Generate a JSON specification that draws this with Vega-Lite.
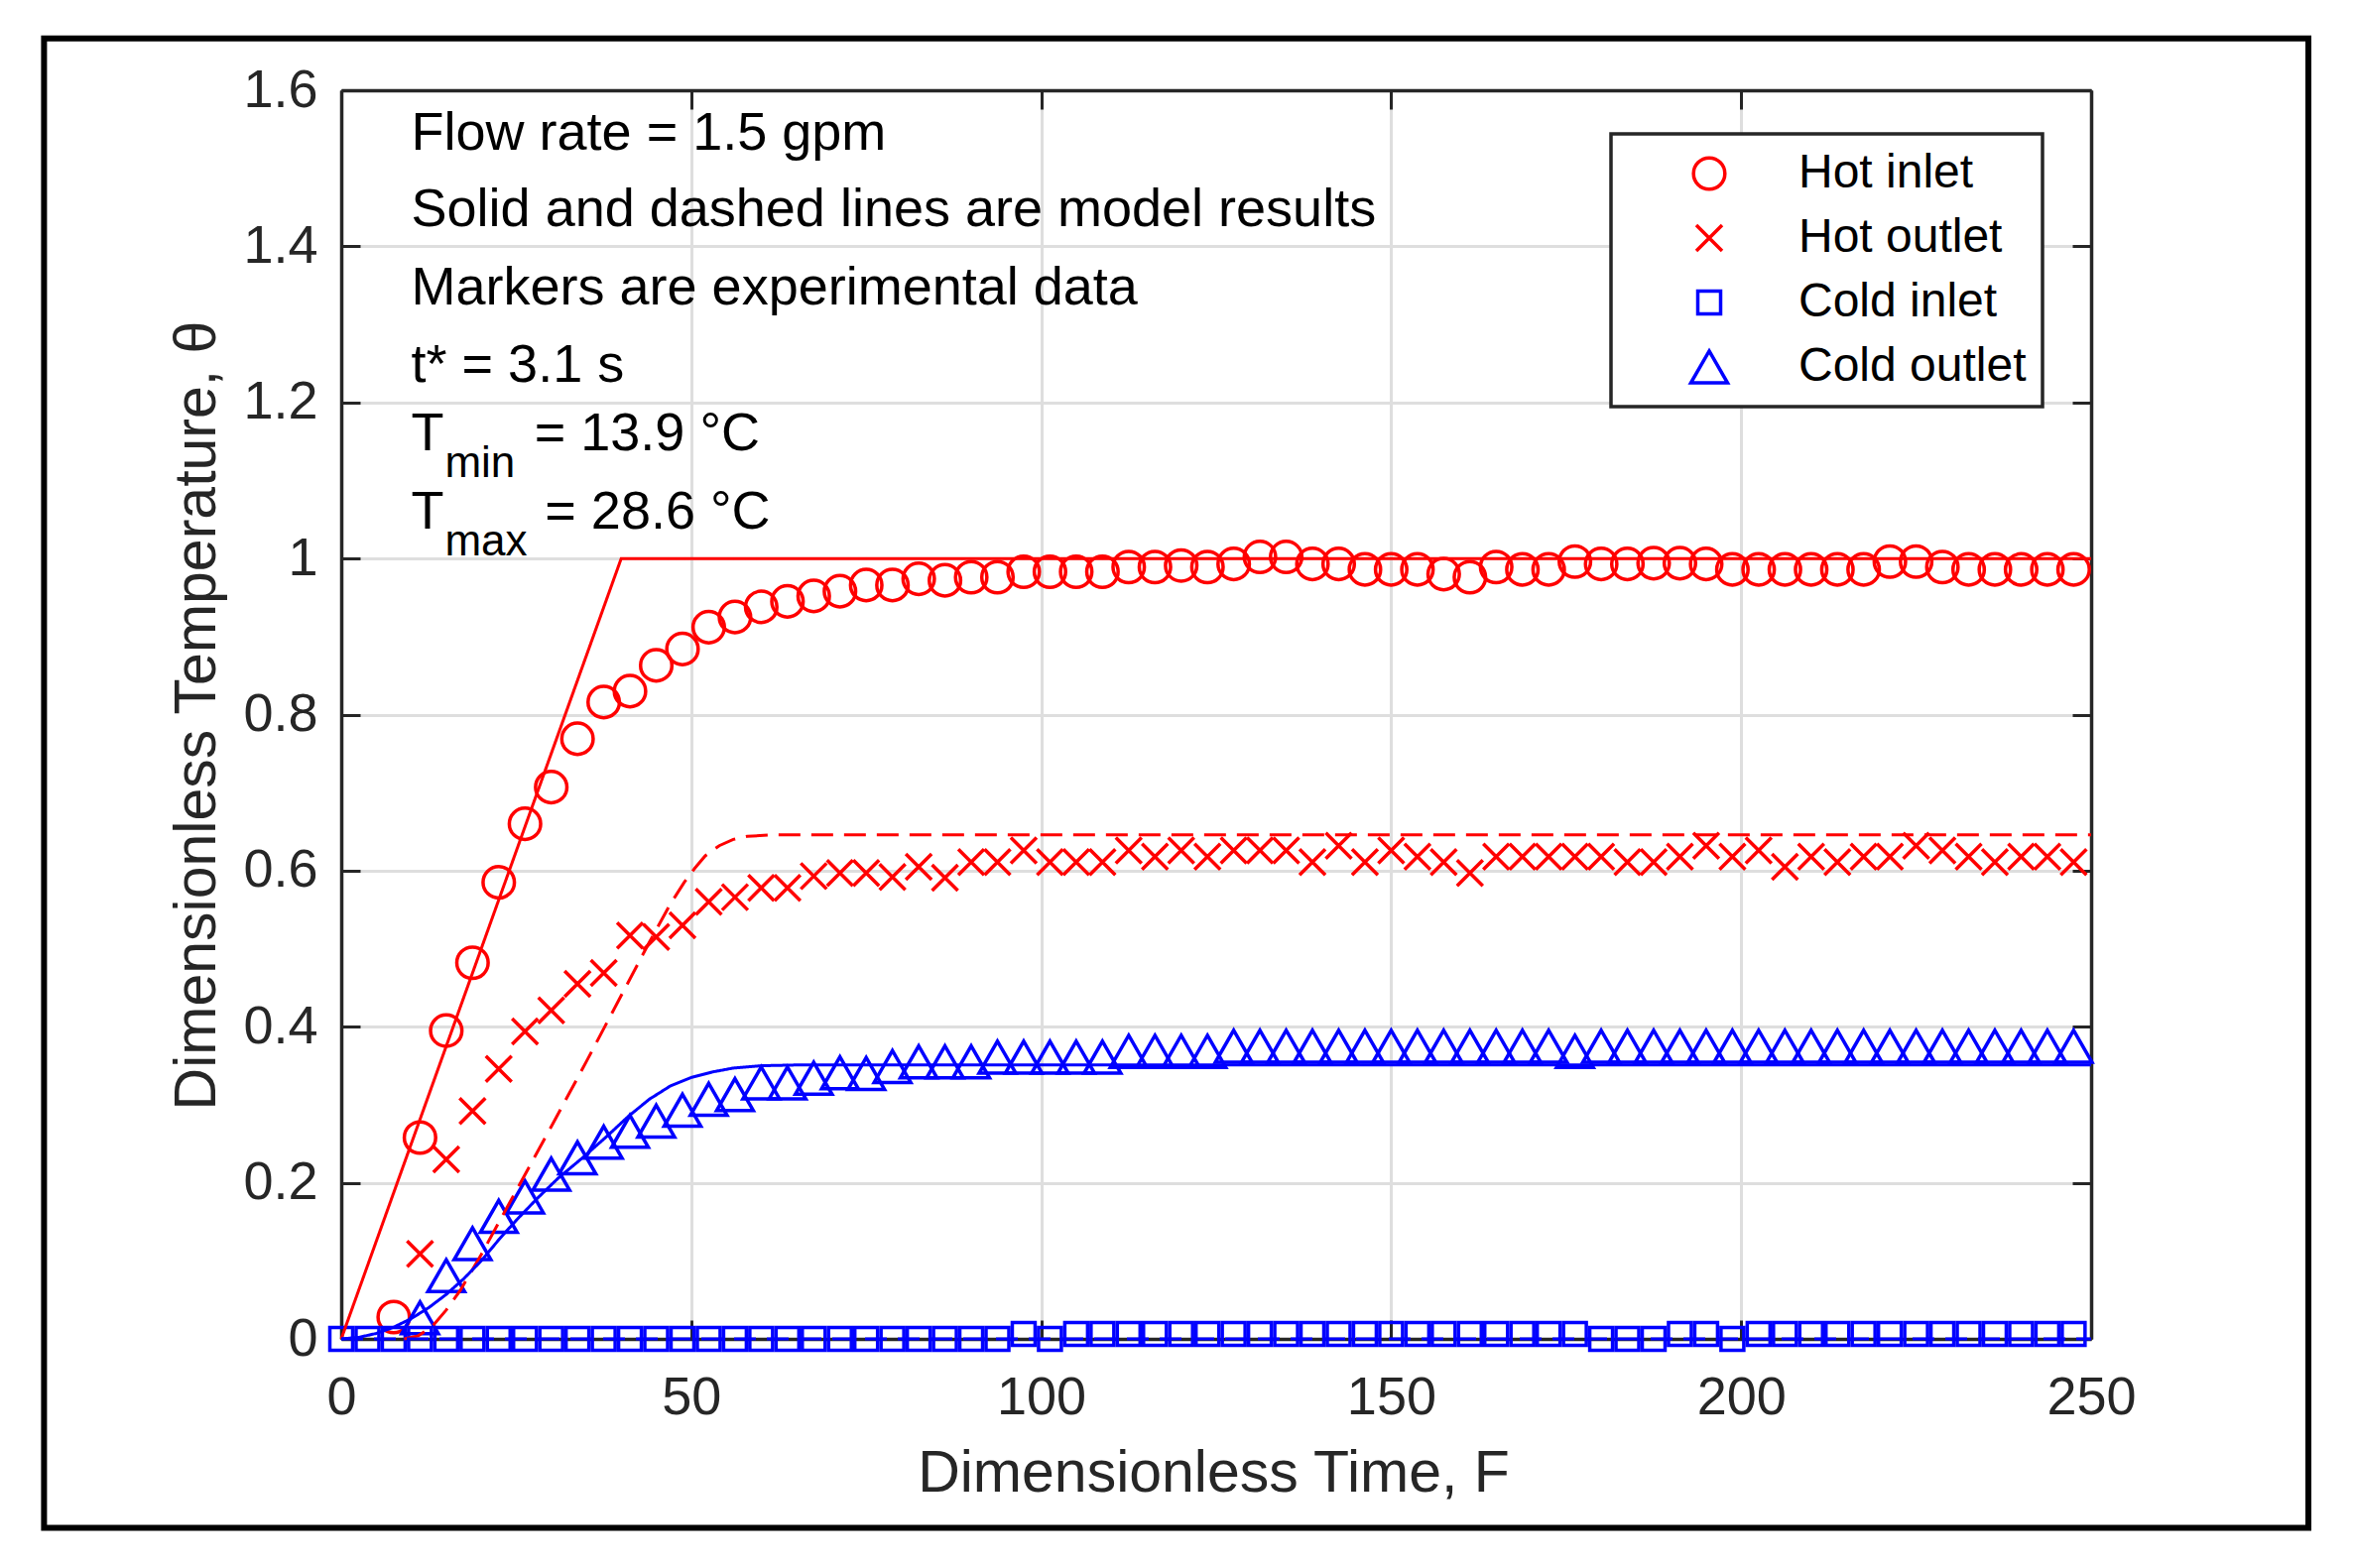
{
  "$schema": "https://vega.github.io/schema/vega-lite/v6.json",
  "width": 1764,
  "height": 1259,
  "autosize": "none",
  "padding": {"left": 344, "top": 91, "right": 265, "bottom": 231},
  "background": "white",
  "config": {
    "view": {"stroke": null},
    "font": "Liberation Sans",
    "legend": {"strokeWidth": 3.5}
  },
  "datasets": {
    "markers": [
      {"series": "Hot inlet", "F": 7.5, "theta": 0.028},
      {"series": "Hot inlet", "F": 11.25, "theta": 0.258},
      {"series": "Hot inlet", "F": 15, "theta": 0.395},
      {"series": "Hot inlet", "F": 18.75, "theta": 0.482},
      {"series": "Hot inlet", "F": 22.5, "theta": 0.585},
      {"series": "Hot inlet", "F": 26.25, "theta": 0.66},
      {"series": "Hot inlet", "F": 30, "theta": 0.707},
      {"series": "Hot inlet", "F": 33.75, "theta": 0.769},
      {"series": "Hot inlet", "F": 37.5, "theta": 0.816},
      {"series": "Hot inlet", "F": 41.25, "theta": 0.83},
      {"series": "Hot inlet", "F": 45, "theta": 0.863},
      {"series": "Hot inlet", "F": 48.75, "theta": 0.884},
      {"series": "Hot inlet", "F": 52.5, "theta": 0.912},
      {"series": "Hot inlet", "F": 56.25, "theta": 0.925},
      {"series": "Hot inlet", "F": 60, "theta": 0.938},
      {"series": "Hot inlet", "F": 63.75, "theta": 0.945},
      {"series": "Hot inlet", "F": 67.5, "theta": 0.952},
      {"series": "Hot inlet", "F": 71.25, "theta": 0.958},
      {"series": "Hot inlet", "F": 75, "theta": 0.966},
      {"series": "Hot inlet", "F": 78.75, "theta": 0.966},
      {"series": "Hot inlet", "F": 82.5, "theta": 0.974},
      {"series": "Hot inlet", "F": 86.25, "theta": 0.972},
      {"series": "Hot inlet", "F": 90, "theta": 0.976},
      {"series": "Hot inlet", "F": 93.75, "theta": 0.976},
      {"series": "Hot inlet", "F": 97.5, "theta": 0.983},
      {"series": "Hot inlet", "F": 101.25, "theta": 0.983},
      {"series": "Hot inlet", "F": 105, "theta": 0.983},
      {"series": "Hot inlet", "F": 108.75, "theta": 0.983},
      {"series": "Hot inlet", "F": 112.5, "theta": 0.989},
      {"series": "Hot inlet", "F": 116.25, "theta": 0.989},
      {"series": "Hot inlet", "F": 120, "theta": 0.991},
      {"series": "Hot inlet", "F": 123.75, "theta": 0.989},
      {"series": "Hot inlet", "F": 127.5, "theta": 0.993},
      {"series": "Hot inlet", "F": 131.25, "theta": 1.002},
      {"series": "Hot inlet", "F": 135, "theta": 1.002},
      {"series": "Hot inlet", "F": 138.75, "theta": 0.993},
      {"series": "Hot inlet", "F": 142.5, "theta": 0.993},
      {"series": "Hot inlet", "F": 146.25, "theta": 0.986},
      {"series": "Hot inlet", "F": 150, "theta": 0.986},
      {"series": "Hot inlet", "F": 153.75, "theta": 0.986},
      {"series": "Hot inlet", "F": 157.5, "theta": 0.98},
      {"series": "Hot inlet", "F": 161.25, "theta": 0.976},
      {"series": "Hot inlet", "F": 165, "theta": 0.989},
      {"series": "Hot inlet", "F": 168.75, "theta": 0.986},
      {"series": "Hot inlet", "F": 172.5, "theta": 0.986},
      {"series": "Hot inlet", "F": 176.25, "theta": 0.996},
      {"series": "Hot inlet", "F": 180, "theta": 0.993},
      {"series": "Hot inlet", "F": 183.75, "theta": 0.993},
      {"series": "Hot inlet", "F": 187.5, "theta": 0.994},
      {"series": "Hot inlet", "F": 191.25, "theta": 0.994},
      {"series": "Hot inlet", "F": 195, "theta": 0.993},
      {"series": "Hot inlet", "F": 198.75, "theta": 0.986},
      {"series": "Hot inlet", "F": 202.5, "theta": 0.986},
      {"series": "Hot inlet", "F": 206.25, "theta": 0.986},
      {"series": "Hot inlet", "F": 210, "theta": 0.986},
      {"series": "Hot inlet", "F": 213.75, "theta": 0.986},
      {"series": "Hot inlet", "F": 217.5, "theta": 0.986},
      {"series": "Hot inlet", "F": 221.25, "theta": 0.996},
      {"series": "Hot inlet", "F": 225, "theta": 0.996},
      {"series": "Hot inlet", "F": 228.75, "theta": 0.989},
      {"series": "Hot inlet", "F": 232.5, "theta": 0.986},
      {"series": "Hot inlet", "F": 236.25, "theta": 0.986},
      {"series": "Hot inlet", "F": 240, "theta": 0.986},
      {"series": "Hot inlet", "F": 243.75, "theta": 0.986},
      {"series": "Hot inlet", "F": 247.5, "theta": 0.986},
      {"series": "Hot outlet", "F": 11.25, "theta": 0.109},
      {"series": "Hot outlet", "F": 15, "theta": 0.23},
      {"series": "Hot outlet", "F": 18.75, "theta": 0.292},
      {"series": "Hot outlet", "F": 22.5, "theta": 0.346},
      {"series": "Hot outlet", "F": 26.25, "theta": 0.394},
      {"series": "Hot outlet", "F": 30, "theta": 0.421},
      {"series": "Hot outlet", "F": 33.75, "theta": 0.455},
      {"series": "Hot outlet", "F": 37.5, "theta": 0.469},
      {"series": "Hot outlet", "F": 41.25, "theta": 0.517},
      {"series": "Hot outlet", "F": 45, "theta": 0.515},
      {"series": "Hot outlet", "F": 48.75, "theta": 0.53},
      {"series": "Hot outlet", "F": 52.5, "theta": 0.56},
      {"series": "Hot outlet", "F": 56.25, "theta": 0.566},
      {"series": "Hot outlet", "F": 60, "theta": 0.578},
      {"series": "Hot outlet", "F": 63.75, "theta": 0.578},
      {"series": "Hot outlet", "F": 67.5, "theta": 0.593},
      {"series": "Hot outlet", "F": 71.25, "theta": 0.597},
      {"series": "Hot outlet", "F": 75, "theta": 0.597},
      {"series": "Hot outlet", "F": 78.75, "theta": 0.592},
      {"series": "Hot outlet", "F": 82.5, "theta": 0.605},
      {"series": "Hot outlet", "F": 86.25, "theta": 0.591},
      {"series": "Hot outlet", "F": 90, "theta": 0.611},
      {"series": "Hot outlet", "F": 93.75, "theta": 0.611},
      {"series": "Hot outlet", "F": 97.5, "theta": 0.626},
      {"series": "Hot outlet", "F": 101.25, "theta": 0.611},
      {"series": "Hot outlet", "F": 105, "theta": 0.611},
      {"series": "Hot outlet", "F": 108.75, "theta": 0.611},
      {"series": "Hot outlet", "F": 112.5, "theta": 0.626},
      {"series": "Hot outlet", "F": 116.25, "theta": 0.618},
      {"series": "Hot outlet", "F": 120, "theta": 0.626},
      {"series": "Hot outlet", "F": 123.75, "theta": 0.618},
      {"series": "Hot outlet", "F": 127.5, "theta": 0.626},
      {"series": "Hot outlet", "F": 131.25, "theta": 0.626},
      {"series": "Hot outlet", "F": 135, "theta": 0.626},
      {"series": "Hot outlet", "F": 138.75, "theta": 0.611},
      {"series": "Hot outlet", "F": 142.5, "theta": 0.632},
      {"series": "Hot outlet", "F": 146.25, "theta": 0.611},
      {"series": "Hot outlet", "F": 150, "theta": 0.626},
      {"series": "Hot outlet", "F": 153.75, "theta": 0.618},
      {"series": "Hot outlet", "F": 157.5, "theta": 0.611},
      {"series": "Hot outlet", "F": 161.25, "theta": 0.597},
      {"series": "Hot outlet", "F": 165, "theta": 0.618},
      {"series": "Hot outlet", "F": 168.75, "theta": 0.618},
      {"series": "Hot outlet", "F": 172.5, "theta": 0.618},
      {"series": "Hot outlet", "F": 176.25, "theta": 0.618},
      {"series": "Hot outlet", "F": 180, "theta": 0.618},
      {"series": "Hot outlet", "F": 183.75, "theta": 0.611},
      {"series": "Hot outlet", "F": 187.5, "theta": 0.611},
      {"series": "Hot outlet", "F": 191.25, "theta": 0.618},
      {"series": "Hot outlet", "F": 195, "theta": 0.632},
      {"series": "Hot outlet", "F": 198.75, "theta": 0.618},
      {"series": "Hot outlet", "F": 202.5, "theta": 0.626},
      {"series": "Hot outlet", "F": 206.25, "theta": 0.605},
      {"series": "Hot outlet", "F": 210, "theta": 0.618},
      {"series": "Hot outlet", "F": 213.75, "theta": 0.611},
      {"series": "Hot outlet", "F": 217.5, "theta": 0.618},
      {"series": "Hot outlet", "F": 221.25, "theta": 0.618},
      {"series": "Hot outlet", "F": 225, "theta": 0.632},
      {"series": "Hot outlet", "F": 228.75, "theta": 0.626},
      {"series": "Hot outlet", "F": 232.5, "theta": 0.618},
      {"series": "Hot outlet", "F": 236.25, "theta": 0.611},
      {"series": "Hot outlet", "F": 240, "theta": 0.618},
      {"series": "Hot outlet", "F": 243.75, "theta": 0.618},
      {"series": "Hot outlet", "F": 247.5, "theta": 0.611},
      {"series": "Cold inlet", "F": 0, "theta": 0},
      {"series": "Cold inlet", "F": 3.75, "theta": 0},
      {"series": "Cold inlet", "F": 7.5, "theta": 0},
      {"series": "Cold inlet", "F": 11.25, "theta": 0},
      {"series": "Cold inlet", "F": 15, "theta": 0},
      {"series": "Cold inlet", "F": 18.75, "theta": 0},
      {"series": "Cold inlet", "F": 22.5, "theta": 0},
      {"series": "Cold inlet", "F": 26.25, "theta": 0},
      {"series": "Cold inlet", "F": 30, "theta": 0},
      {"series": "Cold inlet", "F": 33.75, "theta": 0},
      {"series": "Cold inlet", "F": 37.5, "theta": 0},
      {"series": "Cold inlet", "F": 41.25, "theta": 0},
      {"series": "Cold inlet", "F": 45, "theta": 0},
      {"series": "Cold inlet", "F": 48.75, "theta": 0},
      {"series": "Cold inlet", "F": 52.5, "theta": 0},
      {"series": "Cold inlet", "F": 56.25, "theta": 0},
      {"series": "Cold inlet", "F": 60, "theta": 0},
      {"series": "Cold inlet", "F": 63.75, "theta": 0},
      {"series": "Cold inlet", "F": 67.5, "theta": 0},
      {"series": "Cold inlet", "F": 71.25, "theta": 0},
      {"series": "Cold inlet", "F": 75, "theta": 0},
      {"series": "Cold inlet", "F": 78.75, "theta": 0},
      {"series": "Cold inlet", "F": 82.5, "theta": 0},
      {"series": "Cold inlet", "F": 86.25, "theta": 0},
      {"series": "Cold inlet", "F": 90, "theta": 0},
      {"series": "Cold inlet", "F": 93.75, "theta": 0},
      {"series": "Cold inlet", "F": 97.5, "theta": 0.0064},
      {"series": "Cold inlet", "F": 101.25, "theta": 0},
      {"series": "Cold inlet", "F": 105, "theta": 0.0064},
      {"series": "Cold inlet", "F": 108.75, "theta": 0.0064},
      {"series": "Cold inlet", "F": 112.5, "theta": 0.0064},
      {"series": "Cold inlet", "F": 116.25, "theta": 0.0064},
      {"series": "Cold inlet", "F": 120, "theta": 0.0064},
      {"series": "Cold inlet", "F": 123.75, "theta": 0.0064},
      {"series": "Cold inlet", "F": 127.5, "theta": 0.0064},
      {"series": "Cold inlet", "F": 131.25, "theta": 0.0064},
      {"series": "Cold inlet", "F": 135, "theta": 0.0064},
      {"series": "Cold inlet", "F": 138.75, "theta": 0.0064},
      {"series": "Cold inlet", "F": 142.5, "theta": 0.0064},
      {"series": "Cold inlet", "F": 146.25, "theta": 0.0064},
      {"series": "Cold inlet", "F": 150, "theta": 0.0064},
      {"series": "Cold inlet", "F": 153.75, "theta": 0.0064},
      {"series": "Cold inlet", "F": 157.5, "theta": 0.0064},
      {"series": "Cold inlet", "F": 161.25, "theta": 0.0064},
      {"series": "Cold inlet", "F": 165, "theta": 0.0064},
      {"series": "Cold inlet", "F": 168.75, "theta": 0.0064},
      {"series": "Cold inlet", "F": 172.5, "theta": 0.0064},
      {"series": "Cold inlet", "F": 176.25, "theta": 0.0064},
      {"series": "Cold inlet", "F": 180, "theta": 0},
      {"series": "Cold inlet", "F": 183.75, "theta": 0},
      {"series": "Cold inlet", "F": 187.5, "theta": 0},
      {"series": "Cold inlet", "F": 191.25, "theta": 0.0064},
      {"series": "Cold inlet", "F": 195, "theta": 0.0064},
      {"series": "Cold inlet", "F": 198.75, "theta": 0},
      {"series": "Cold inlet", "F": 202.5, "theta": 0.0064},
      {"series": "Cold inlet", "F": 206.25, "theta": 0.0064},
      {"series": "Cold inlet", "F": 210, "theta": 0.0064},
      {"series": "Cold inlet", "F": 213.75, "theta": 0.0064},
      {"series": "Cold inlet", "F": 217.5, "theta": 0.0064},
      {"series": "Cold inlet", "F": 221.25, "theta": 0.0064},
      {"series": "Cold inlet", "F": 225, "theta": 0.0064},
      {"series": "Cold inlet", "F": 228.75, "theta": 0.0064},
      {"series": "Cold inlet", "F": 232.5, "theta": 0.0064},
      {"series": "Cold inlet", "F": 236.25, "theta": 0.0064},
      {"series": "Cold inlet", "F": 240, "theta": 0.0064},
      {"series": "Cold inlet", "F": 243.75, "theta": 0.0064},
      {"series": "Cold inlet", "F": 247.5, "theta": 0.0064},
      {"series": "Cold outlet", "F": 11.25, "theta": 0.027},
      {"series": "Cold outlet", "F": 15, "theta": 0.081},
      {"series": "Cold outlet", "F": 18.75, "theta": 0.122},
      {"series": "Cold outlet", "F": 22.5, "theta": 0.157},
      {"series": "Cold outlet", "F": 26.25, "theta": 0.182},
      {"series": "Cold outlet", "F": 30, "theta": 0.211},
      {"series": "Cold outlet", "F": 33.75, "theta": 0.232},
      {"series": "Cold outlet", "F": 37.5, "theta": 0.252},
      {"series": "Cold outlet", "F": 41.25, "theta": 0.266},
      {"series": "Cold outlet", "F": 45, "theta": 0.279},
      {"series": "Cold outlet", "F": 48.75, "theta": 0.293},
      {"series": "Cold outlet", "F": 52.5, "theta": 0.307},
      {"series": "Cold outlet", "F": 56.25, "theta": 0.313},
      {"series": "Cold outlet", "F": 60, "theta": 0.328},
      {"series": "Cold outlet", "F": 63.75, "theta": 0.328},
      {"series": "Cold outlet", "F": 67.5, "theta": 0.334},
      {"series": "Cold outlet", "F": 71.25, "theta": 0.341},
      {"series": "Cold outlet", "F": 75, "theta": 0.34},
      {"series": "Cold outlet", "F": 78.75, "theta": 0.349},
      {"series": "Cold outlet", "F": 82.5, "theta": 0.355},
      {"series": "Cold outlet", "F": 86.25, "theta": 0.355},
      {"series": "Cold outlet", "F": 90, "theta": 0.355},
      {"series": "Cold outlet", "F": 93.75, "theta": 0.361},
      {"series": "Cold outlet", "F": 97.5, "theta": 0.361},
      {"series": "Cold outlet", "F": 101.25, "theta": 0.361},
      {"series": "Cold outlet", "F": 105, "theta": 0.361},
      {"series": "Cold outlet", "F": 108.75, "theta": 0.361},
      {"series": "Cold outlet", "F": 112.5, "theta": 0.3685},
      {"series": "Cold outlet", "F": 116.25, "theta": 0.3685},
      {"series": "Cold outlet", "F": 120, "theta": 0.3685},
      {"series": "Cold outlet", "F": 123.75, "theta": 0.3685},
      {"series": "Cold outlet", "F": 127.5, "theta": 0.375},
      {"series": "Cold outlet", "F": 131.25, "theta": 0.375},
      {"series": "Cold outlet", "F": 135, "theta": 0.375},
      {"series": "Cold outlet", "F": 138.75, "theta": 0.375},
      {"series": "Cold outlet", "F": 142.5, "theta": 0.375},
      {"series": "Cold outlet", "F": 146.25, "theta": 0.375},
      {"series": "Cold outlet", "F": 150, "theta": 0.375},
      {"series": "Cold outlet", "F": 153.75, "theta": 0.375},
      {"series": "Cold outlet", "F": 157.5, "theta": 0.375},
      {"series": "Cold outlet", "F": 161.25, "theta": 0.375},
      {"series": "Cold outlet", "F": 165, "theta": 0.375},
      {"series": "Cold outlet", "F": 168.75, "theta": 0.375},
      {"series": "Cold outlet", "F": 172.5, "theta": 0.375},
      {"series": "Cold outlet", "F": 176.25, "theta": 0.3685},
      {"series": "Cold outlet", "F": 180, "theta": 0.375},
      {"series": "Cold outlet", "F": 183.75, "theta": 0.375},
      {"series": "Cold outlet", "F": 187.5, "theta": 0.375},
      {"series": "Cold outlet", "F": 191.25, "theta": 0.375},
      {"series": "Cold outlet", "F": 195, "theta": 0.375},
      {"series": "Cold outlet", "F": 198.75, "theta": 0.375},
      {"series": "Cold outlet", "F": 202.5, "theta": 0.375},
      {"series": "Cold outlet", "F": 206.25, "theta": 0.375},
      {"series": "Cold outlet", "F": 210, "theta": 0.375},
      {"series": "Cold outlet", "F": 213.75, "theta": 0.375},
      {"series": "Cold outlet", "F": 217.5, "theta": 0.375},
      {"series": "Cold outlet", "F": 221.25, "theta": 0.375},
      {"series": "Cold outlet", "F": 225, "theta": 0.375},
      {"series": "Cold outlet", "F": 228.75, "theta": 0.375},
      {"series": "Cold outlet", "F": 232.5, "theta": 0.375},
      {"series": "Cold outlet", "F": 236.25, "theta": 0.375},
      {"series": "Cold outlet", "F": 240, "theta": 0.375},
      {"series": "Cold outlet", "F": 243.75, "theta": 0.375},
      {"series": "Cold outlet", "F": 247.5, "theta": 0.375}
    ],
    "model": [
      {"curve": "Hot inlet model", "F": 0, "theta": 0},
      {"curve": "Hot inlet model", "F": 40, "theta": 1},
      {"curve": "Hot inlet model", "F": 250, "theta": 1},
      {"curve": "Hot outlet model", "F": 9, "theta": 0},
      {"curve": "Hot outlet model", "F": 11, "theta": 0.004},
      {"curve": "Hot outlet model", "F": 13, "theta": 0.016},
      {"curve": "Hot outlet model", "F": 15, "theta": 0.037},
      {"curve": "Hot outlet model", "F": 17, "theta": 0.062},
      {"curve": "Hot outlet model", "F": 20, "theta": 0.108},
      {"curve": "Hot outlet model", "F": 25, "theta": 0.19},
      {"curve": "Hot outlet model", "F": 30, "theta": 0.272},
      {"curve": "Hot outlet model", "F": 35, "theta": 0.355},
      {"curve": "Hot outlet model", "F": 40, "theta": 0.44},
      {"curve": "Hot outlet model", "F": 44, "theta": 0.508},
      {"curve": "Hot outlet model", "F": 47, "theta": 0.557},
      {"curve": "Hot outlet model", "F": 49, "theta": 0.585},
      {"curve": "Hot outlet model", "F": 50.5, "theta": 0.603},
      {"curve": "Hot outlet model", "F": 52, "theta": 0.619},
      {"curve": "Hot outlet model", "F": 54, "theta": 0.632},
      {"curve": "Hot outlet model", "F": 56, "theta": 0.64},
      {"curve": "Hot outlet model", "F": 58, "theta": 0.644},
      {"curve": "Hot outlet model", "F": 62, "theta": 0.646},
      {"curve": "Hot outlet model", "F": 250, "theta": 0.646},
      {"curve": "Cold inlet model", "F": 0, "theta": 0},
      {"curve": "Cold inlet model", "F": 250, "theta": 0},
      {"curve": "Cold outlet model", "F": 0, "theta": 0},
      {"curve": "Cold outlet model", "F": 2.5, "theta": 0.002},
      {"curve": "Cold outlet model", "F": 5, "theta": 0.007},
      {"curve": "Cold outlet model", "F": 7.5, "theta": 0.015},
      {"curve": "Cold outlet model", "F": 10, "theta": 0.026},
      {"curve": "Cold outlet model", "F": 12.5, "theta": 0.04},
      {"curve": "Cold outlet model", "F": 15, "theta": 0.057},
      {"curve": "Cold outlet model", "F": 17.5, "theta": 0.077},
      {"curve": "Cold outlet model", "F": 20, "theta": 0.1},
      {"curve": "Cold outlet model", "F": 22.5, "theta": 0.127},
      {"curve": "Cold outlet model", "F": 25, "theta": 0.152},
      {"curve": "Cold outlet model", "F": 28, "theta": 0.18},
      {"curve": "Cold outlet model", "F": 31, "theta": 0.206},
      {"curve": "Cold outlet model", "F": 34.6, "theta": 0.233},
      {"curve": "Cold outlet model", "F": 38, "theta": 0.26},
      {"curve": "Cold outlet model", "F": 41, "theta": 0.285},
      {"curve": "Cold outlet model", "F": 44, "theta": 0.307},
      {"curve": "Cold outlet model", "F": 47, "theta": 0.324},
      {"curve": "Cold outlet model", "F": 50, "theta": 0.335},
      {"curve": "Cold outlet model", "F": 53, "theta": 0.342},
      {"curve": "Cold outlet model", "F": 56, "theta": 0.347},
      {"curve": "Cold outlet model", "F": 60, "theta": 0.35},
      {"curve": "Cold outlet model", "F": 65, "theta": 0.351},
      {"curve": "Cold outlet model", "F": 250, "theta": 0.351}
    ],
    "notes": [
      {"label": "Flow rate = 1.5 gpm", "F": 10, "theta": 1.524},
      {"label": "Solid and dashed lines are model results", "F": 10, "theta": 1.426},
      {"label": "Markers are experimental data", "F": 10, "theta": 1.325},
      {"label": "t* = 3.1 s", "F": 10, "theta": 1.226},
      {"label": "T", "F": 10, "theta": 1.139},
      {"label": "= 13.9 °C", "F": 27.6, "theta": 1.139},
      {"label": "T", "F": 10, "theta": 1.038},
      {"label": "= 28.6 °C", "F": 29.1, "theta": 1.038}
    ],
    "subs": [
      {"label": "min", "F": 14.8, "theta": 1.104},
      {"label": "max", "F": 14.8, "theta": 1.004}
    ]
  },
  "layer": [
    {
      "data": {"values": [{}]},
      "mark": {"type": "rect", "fill": "transparent", "stroke": "black", "strokeWidth": 6},
      "encoding": {
        "x": {
          "datum": -42.46, "type": "quantitative",
          "scale": {"domain": [0, 250], "nice": false, "zero": false},
          "axis": {
            "orient": "bottom",
            "values": [0, 50, 100, 150, 200, 250],
            "format": "d",
            "title": "Dimensionless Time, F",
            "titleFontSize": 59, "titleFontWeight": "normal", "titleColor": "#262626",
            "titleBaseline": "alphabetic", "titleX": 879, "titleY": 153,
            "labelFontSize": 54, "labelColor": "#262626", "labelBaseline": "alphabetic",
            "labelPadding": 94, "labelFlush": false, "labelOverlap": false,
            "tickSize": -19, "tickWidth": 3, "tickColor": "#262626",
            "domainColor": "#262626", "domainWidth": 3.5,
            "grid": true, "gridColor": "#dedede", "gridWidth": 3
          }
        },
        "x2": {"datum": 281.04},
        "y": {
          "datum": 1.6663, "type": "quantitative",
          "scale": {"domain": [0, 1.6], "nice": false, "zero": false},
          "axis": {
            "orient": "left",
            "values": [0, 0.2, 0.4, 0.6, 0.8, 1, 1.2, 1.4, 1.6],
            "format": "~g",
            "title": "Dimensionless Temperature, θ",
            "titleFontSize": 59, "titleFontWeight": "normal", "titleColor": "#262626",
            "titleBaseline": "alphabetic", "titleX": -127.5, "titleY": 630, "titleAngle": 270,
            "labelFontSize": 54, "labelColor": "#262626",
            "labelPadding": 43, "labelOverlap": false,
            "tickSize": -19, "tickWidth": 3, "tickColor": "#262626",
            "domainColor": "#262626", "domainWidth": 3.5,
            "grid": true, "gridColor": "#dedede", "gridWidth": 3
          }
        },
        "y2": {"datum": -0.2421}
      }
    },
    {
      "data": {"values": [{}]},
      "mark": {"type": "point", "opacity": 0},
      "encoding": {
        "x": {
          "datum": 0, "type": "quantitative",
          "axis": {
            "orient": "top", "values": [0, 50, 100, 150, 200, 250], "labels": false, "title": null,
            "tickSize": -19, "tickWidth": 3, "tickColor": "#262626",
            "domainColor": "#262626", "domainWidth": 3.5, "grid": false
          }
        },
        "y": {
          "datum": 0, "type": "quantitative",
          "axis": {
            "orient": "right", "values": [0, 0.2, 0.4, 0.6, 0.8, 1, 1.2, 1.4, 1.6], "labels": false, "title": null,
            "tickSize": -19, "tickWidth": 3, "tickColor": "#262626",
            "domainColor": "#262626", "domainWidth": 3.5, "grid": false
          }
        }
      }
    },
    {
      "data": {"name": "markers"},
      "mark": {"type": "point", "filled": false, "strokeWidth": 3.5, "opacity": 1},
      "encoding": {
        "x": {"field": "F", "type": "quantitative", "axis": null},
        "y": {"field": "theta", "type": "quantitative", "axis": null},
        "color": {
          "field": "series", "type": "nominal",
          "scale": {"domain": ["Hot inlet", "Hot outlet", "Cold inlet", "Cold outlet"], "range": ["#ff0000", "#ff0000", "#0000ff", "#0000ff"]},
          "legend": {
            "orient": "none", "legendX": 1280, "legendY": 44, "title": null,
            "labelFontSize": 48, "labelColor": "black", "labelLimit": 0,
            "padding": 16, "rowPadding": 17, "symbolOffset": 59, "labelOffset": 66,
            "symbolStrokeWidth": 3.5, "strokeColor": "#262626", "fillColor": "white"
          }
        },
        "shape": {
          "field": "series", "type": "nominal",
          "scale": {"domain": ["Hot inlet", "Hot outlet", "Cold inlet", "Cold outlet"], "range": ["circle", "M-1,-1L1,1M-1,1L1,-1", "square", "M0,-0.87L1,0.87L-1,0.87Z"]}
        },
        "size": {
          "field": "series", "type": "nominal",
          "scale": {"type": "ordinal", "domain": ["Hot inlet", "Hot outlet", "Cold inlet", "Cold outlet"], "range": [1000, 676, 529, 1369]}
        }
      }
    },
    {
      "data": {"name": "model"},
      "mark": {"type": "line", "strokeWidth": 3},
      "encoding": {
        "x": {"field": "F", "type": "quantitative", "axis": null},
        "y": {"field": "theta", "type": "quantitative", "axis": null},
        "stroke": {
          "field": "curve", "type": "nominal",
          "scale": {"domain": ["Hot inlet model", "Hot outlet model", "Cold inlet model", "Cold outlet model"], "range": ["#ff0000", "#ff0000", "#0000ff", "#0000ff"]},
          "legend": null
        },
        "strokeDash": {
          "field": "curve", "type": "nominal",
          "scale": {"domain": ["Hot inlet model", "Hot outlet model", "Cold inlet model", "Cold outlet model"], "range": [[1, 0], [22, 11], [22, 11], [1, 0]]},
          "legend": null
        }
      }
    },
    {
      "data": {"name": "notes"},
      "mark": {"type": "text", "align": "left", "baseline": "alphabetic", "fontSize": 54, "color": "black"},
      "encoding": {
        "x": {"field": "F", "type": "quantitative", "axis": null},
        "y": {"field": "theta", "type": "quantitative", "axis": null},
        "text": {"field": "label"}
      }
    },
    {
      "data": {"name": "subs"},
      "mark": {"type": "text", "align": "left", "baseline": "alphabetic", "fontSize": 44, "color": "black"},
      "encoding": {
        "x": {"field": "F", "type": "quantitative", "axis": null},
        "y": {"field": "theta", "type": "quantitative", "axis": null},
        "text": {"field": "label"}
      }
    }
  ],
  "resolve": {"axis": {"x": "independent", "y": "independent"}}
}
